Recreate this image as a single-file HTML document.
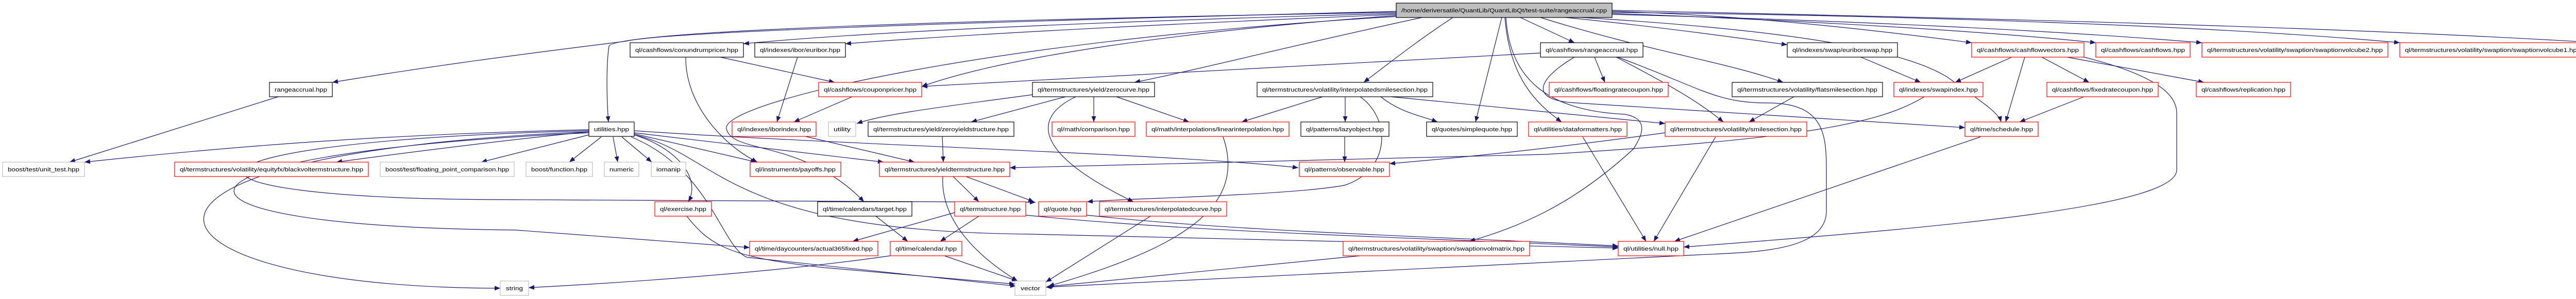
<!DOCTYPE html>
<html><head><meta charset="utf-8"><style>
html,body{margin:0;padding:0;background:#fff;overflow:hidden;}
svg{display:block;overflow:hidden;}
text{font-family:"Liberation Sans",sans-serif;font-size:11px;fill:#000;}
.e{fill:none;stroke:#191970;stroke-width:1.2;marker-end:url(#a);}
.b{fill:#fff;stroke:#000;stroke-width:1.2;}
.r{fill:#fff;stroke:#ff0000;stroke-width:1.2;}
.g{fill:#fff;stroke:#bfbfbf;stroke-width:1.2;}
</style></head><body>
<svg width="5261" height="581" viewBox="0 0 5261 581" xmlns="http://www.w3.org/2000/svg">
<defs><marker id="a" markerUnits="userSpaceOnUse" markerWidth="12" markerHeight="9" refX="11" refY="4.5" orient="auto"><path d="M0,0 L11,4.5 L0,9 z" fill="#191970"/></marker></defs>

<g>
<path class="e" d="M2712,22 C2000,40 1300,60 1215,80 C1100,95 900,118 645,160"/>
<path class="e" d="M2712,24 C1500,45 1190,70 1182,90 C1176,130 1178,200 1181,237"/>
<path class="e" d="M2712,26 C2200,40 1700,60 1443,85"/>
<path class="e" d="M2712,28 C2300,45 1900,65 1641,85"/>
<path class="e" d="M2712,30 C2300,60 1950,110 1789,168"/>
<path class="e" d="M2760,34 C2500,90 2350,130 2202,160"/>
<path class="e" d="M2820,34 C2750,80 2700,120 2647,160"/>
<path class="e" d="M2915,34 L2864,237"/>
<path class="e" d="M2921,34 C2930,150 2980,200 3031,237"/>
<path class="e" d="M2923,34 C2930,150 3000,215 3153,222 C3200,230 3190,260 3170,290 C3050,400 2950,440 2852,469"/>
<path class="e" d="M2951,34 L3056,83"/>
<path class="e" d="M2990,34 C3200,100 3350,120 3461,160"/>
<path class="e" d="M3039,34 C3200,50 3350,70 3469,87"/>
<path class="e" d="M3129,22 C3400,30 3650,60 3827,83"/>
<path class="e" d="M3129,26 C3500,40 3850,60 4068,83"/>
<path class="e" d="M3129,28 C3600,40 4000,60 4274,83"/>
<path class="e" d="M3129,24 C3700,30 4300,50 4658,83"/>
<path class="e" d="M3129,20 C3800,35 4500,50 5042,83"/>
<path class="e" d="M3070,34 C3500,60 3700,100 3780,150 C3850,200 3880,220 3884,237"/>
<path class="e" d="M2712,32 C1900,80 1400,200 1410,250 C1420,300 1560,270 1677,392"/>
<path class="e" d="M540,188 L135,315"/>
<path class="e" d="M1143,252 C700,262 400,290 164,315"/>
<path class="e" d="M1143,256 C1000,270 800,295 653,315"/>
<path class="e" d="M1143,262 L934,315"/>
<path class="e" d="M1167,266 L1105,315"/>
<path class="e" d="M1190,266 L1199,315"/>
<path class="e" d="M1207,266 L1265,315"/>
<path class="e" d="M1231,260 L1468,315"/>
<path class="e" d="M1231,258 L1715,315"/>
<path class="e" d="M1231,254 C1600,280 2300,300 2520,326"/>
<path class="e" d="M1231,262 C1320,290 1360,350 1336,392"/>
<path class="e" d="M1143,254 C300,275 250,388 1000,388 L2010,393"/>
<path class="e" d="M1143,258 C250,300 250,440 1000,447 L1455,481"/>
<path class="e" d="M1143,256 C100,300 250,560 971,560"/>
<path class="e" d="M1225,266 C1380,330 1400,480 1450,500 L1972,556"/>
<path class="e" d="M1231,262 C1400,300 1400,450 2000,455 L3141,482"/>
<path class="e" d="M1398,111 L1620,160"/>
<path class="e" d="M1331,111 C1330,200 1400,280 1470,315"/>
<path class="e" d="M1548,111 L1508,237"/>
<path class="e" d="M1654,188 L1541,237"/>
<path class="e" d="M2990,103 L1789,168"/>
<path class="e" d="M1563,265 L1775,315"/>
<path class="e" d="M2004,184 C1850,205 1720,220 1663,240"/>
<path class="e" d="M2068,188 L1885,237"/>
<path class="e" d="M2123,188 L2123,237"/>
<path class="e" d="M2167,188 L2308,237"/>
<path class="e" d="M2088,188 C2000,230 2010,300 2200,392"/>
<path class="e" d="M1829,265 L1831,315"/>
<path class="e" d="M1850,343 L1900,392"/>
<path class="e" d="M1875,343 L2007,392"/>
<path class="e" d="M1830,343 C1825,430 1900,500 1975,546"/>
<path class="e" d="M3735,188 C3650,240 3500,270 3000,300 L1960,326"/>
<path class="e" d="M3056,111 C2990,150 2960,195 3060,200 L3814,248"/>
<path class="e" d="M3095,111 L3115,160"/>
<path class="e" d="M3137,111 C3250,170 3300,200 3345,237"/>
<path class="e" d="M3140,111 C3300,170 3330,200 3430,200 C3540,200 3545,260 3545,330 L3545,410 C3545,490 3400,490 3300,495 C3000,510 2400,540 2030,558"/>
<path class="e" d="M4045,111 C4200,150 4225,190 4225,220 L4225,330 C4225,400 3800,440 3268,480"/>
<path class="e" d="M3844,266 L3250,469"/>
<path class="e" d="M3330,266 L3210,469"/>
<path class="e" d="M3072,266 L3195,469"/>
<path class="e" d="M3232,258 C3000,290 2850,305 2697,318"/>
<path class="e" d="M3482,188 L3395,237"/>
<path class="e" d="M2567,188 L2410,237"/>
<path class="e" d="M2611,188 L2611,237"/>
<path class="e" d="M2700,188 L3232,240"/>
<path class="e" d="M2680,188 C2720,220 2760,225 2790,237"/>
<path class="e" d="M2640,188 C2700,230 2700,330 2610,360 C2500,380 2200,385 2110,392"/>
<path class="e" d="M2610,266 L2610,315"/>
<path class="e" d="M2374,266 C2420,400 2300,480 2035,556"/>
<path class="e" d="M2233,420 L2030,548"/>
<path class="e" d="M1900,420 L1825,469"/>
<path class="e" d="M1853,413 L1655,469"/>
<path class="e" d="M1991,418 C2300,450 2700,460 3141,480"/>
<path class="e" d="M2109,418 C2400,450 2800,460 3141,478"/>
<path class="e" d="M1700,420 L1762,469"/>
<path class="e" d="M1833,497 L1975,546"/>
<path class="e" d="M1728,497 C1500,530 1200,550 1026,559"/>
<path class="e" d="M2640,497 L2032,557"/>
<path class="e" d="M1333,420 C1380,480 1420,500 1600,520 L1970,552"/>
<path class="e" d="M3905,111 L3795,160"/>
<path class="e" d="M3930,111 L3893,237"/>
<path class="e" d="M3963,111 L4055,160"/>
<path class="e" d="M4012,111 L4278,160"/>
<path class="e" d="M4045,188 L3920,237"/>
<path class="e" d="M3612,111 L3728,160"/>
</g>

<g>
<rect x="2710" y="6" width="419" height="28" fill="#bfbfbf" stroke="#000" stroke-width="1.2"/>
<text x="2919.5" y="24" text-anchor="middle" textLength="399" lengthAdjust="spacingAndGlyphs">/home/deriversatile/QuantLib/QuantLibQt/test-suite/rangeaccrual.cpp</text>

<rect class="b" x="1223" y="83" width="220" height="28"/><text x="1333" y="101" text-anchor="middle" textLength="200" lengthAdjust="spacingAndGlyphs">ql/cashflows/conundrumpricer.hpp</text>
<rect class="b" x="1465" y="83" width="176" height="28"/><text x="1553" y="101" text-anchor="middle" textLength="156" lengthAdjust="spacingAndGlyphs">ql/indexes/ibor/euribor.hpp</text>
<rect class="b" x="2990" y="83" width="199" height="28"/><text x="3089.5" y="101" text-anchor="middle" textLength="179" lengthAdjust="spacingAndGlyphs">ql/cashflows/rangeaccrual.hpp</text>
<rect class="b" x="3469" y="83" width="214" height="28"/><text x="3576" y="101" text-anchor="middle" textLength="194" lengthAdjust="spacingAndGlyphs">ql/indexes/swap/euriborswap.hpp</text>
<rect class="r" x="3827" y="83" width="218" height="28"/><text x="3936" y="101" text-anchor="middle" textLength="198" lengthAdjust="spacingAndGlyphs">ql/cashflows/cashflowvectors.hpp</text>
<rect class="r" x="4068" y="83" width="183" height="28"/><text x="4159.5" y="101" text-anchor="middle" textLength="163" lengthAdjust="spacingAndGlyphs">ql/cashflows/cashflows.hpp</text>
<rect class="r" x="4274" y="83" width="361" height="28"/><text x="4454.5" y="101" text-anchor="middle" textLength="341" lengthAdjust="spacingAndGlyphs">ql/termstructures/volatility/swaption/swaptionvolcube2.hpp</text>
<rect class="r" x="4658" y="83" width="361" height="28"/><text x="4838.5" y="101" text-anchor="middle" textLength="341" lengthAdjust="spacingAndGlyphs">ql/termstructures/volatility/swaption/swaptionvolcube1.hpp</text>
<rect class="r" x="5042" y="83" width="212" height="28"/><text x="5148" y="101" text-anchor="middle" textLength="192" lengthAdjust="spacingAndGlyphs">ql/time/daycounters/thirty360.hpp</text>

<rect class="b" x="523" y="160" width="122" height="28"/><text x="584" y="178" text-anchor="middle" textLength="102" lengthAdjust="spacingAndGlyphs">rangeaccrual.hpp</text>
<rect class="r" x="1589" y="160" width="200" height="28"/><text x="1689" y="178" text-anchor="middle" textLength="180" lengthAdjust="spacingAndGlyphs">ql/cashflows/couponpricer.hpp</text>
<rect class="b" x="2004" y="160" width="237" height="28"/><text x="2122.5" y="178" text-anchor="middle" textLength="217" lengthAdjust="spacingAndGlyphs">ql/termstructures/yield/zerocurve.hpp</text>
<rect class="b" x="2440" y="160" width="341" height="28"/><text x="2610.5" y="178" text-anchor="middle" textLength="321" lengthAdjust="spacingAndGlyphs">ql/termstructures/volatility/interpolatedsmilesection.hpp</text>
<rect class="r" x="3007" y="160" width="231" height="28"/><text x="3122.5" y="178" text-anchor="middle" textLength="211" lengthAdjust="spacingAndGlyphs">ql/cashflows/floatingratecoupon.hpp</text>
<rect class="b" x="3362" y="160" width="292" height="28"/><text x="3508" y="178" text-anchor="middle" textLength="272" lengthAdjust="spacingAndGlyphs">ql/termstructures/volatility/flatsmilesection.hpp</text>
<rect class="r" x="3676" y="160" width="173" height="28"/><text x="3762.5" y="178" text-anchor="middle" textLength="153" lengthAdjust="spacingAndGlyphs">ql/indexes/swapindex.hpp</text>
<rect class="r" x="3973" y="160" width="216" height="28"/><text x="4081" y="178" text-anchor="middle" textLength="196" lengthAdjust="spacingAndGlyphs">ql/cashflows/fixedratecoupon.hpp</text>
<rect class="r" x="4263" y="160" width="183" height="28"/><text x="4354.5" y="178" text-anchor="middle" textLength="163" lengthAdjust="spacingAndGlyphs">ql/cashflows/replication.hpp</text>

<rect class="b" x="1143" y="237" width="88" height="28"/><text x="1187" y="255" text-anchor="middle" textLength="68" lengthAdjust="spacingAndGlyphs">utilities.hpp</text>
<rect class="r" x="1421" y="237" width="163" height="28"/><text x="1502.5" y="255" text-anchor="middle" textLength="143" lengthAdjust="spacingAndGlyphs">ql/indexes/iborindex.hpp</text>
<rect class="g" x="1608" y="237" width="53" height="28"/><text x="1634.5" y="255" text-anchor="middle" textLength="33" lengthAdjust="spacingAndGlyphs">utility</text>
<rect class="b" x="1685" y="237" width="283" height="28"/><text x="1826.5" y="255" text-anchor="middle" textLength="263" lengthAdjust="spacingAndGlyphs">ql/termstructures/yield/zeroyieldstructure.hpp</text>
<rect class="r" x="2042" y="237" width="161" height="28"/><text x="2122.5" y="255" text-anchor="middle" textLength="141" lengthAdjust="spacingAndGlyphs">ql/math/comparison.hpp</text>
<rect class="r" x="2225" y="237" width="277" height="28"/><text x="2363.5" y="255" text-anchor="middle" textLength="257" lengthAdjust="spacingAndGlyphs">ql/math/interpolations/linearinterpolation.hpp</text>
<rect class="b" x="2525" y="237" width="171" height="28"/><text x="2610.5" y="255" text-anchor="middle" textLength="151" lengthAdjust="spacingAndGlyphs">ql/patterns/lazyobject.hpp</text>
<rect class="b" x="2769" y="237" width="176" height="28"/><text x="2857" y="255" text-anchor="middle" textLength="156" lengthAdjust="spacingAndGlyphs">ql/quotes/simplequote.hpp</text>
<rect class="r" x="2967" y="237" width="191" height="28"/><text x="3062.5" y="255" text-anchor="middle" textLength="171" lengthAdjust="spacingAndGlyphs">ql/utilities/dataformatters.hpp</text>
<rect class="r" x="3232" y="237" width="275" height="28"/><text x="3369.5" y="255" text-anchor="middle" textLength="255" lengthAdjust="spacingAndGlyphs">ql/termstructures/volatility/smilesection.hpp</text>
<rect class="r" x="3814" y="237" width="142" height="28"/><text x="3885" y="255" text-anchor="middle" textLength="122" lengthAdjust="spacingAndGlyphs">ql/time/schedule.hpp</text>

<rect class="g" x="5" y="315" width="159" height="28"/><text x="84.5" y="333" text-anchor="middle" textLength="139" lengthAdjust="spacingAndGlyphs">boost/test/unit_test.hpp</text>
<rect class="r" x="339" y="315" width="376" height="28"/><text x="527" y="333" text-anchor="middle" textLength="356" lengthAdjust="spacingAndGlyphs">ql/termstructures/volatility/equityfx/blackvoltermstructure.hpp</text>
<rect class="g" x="738" y="315" width="260" height="28"/><text x="868" y="333" text-anchor="middle" textLength="240" lengthAdjust="spacingAndGlyphs">boost/test/floating_point_comparison.hpp</text>
<rect class="g" x="1021" y="315" width="129" height="28"/><text x="1085.5" y="333" text-anchor="middle" textLength="109" lengthAdjust="spacingAndGlyphs">boost/function.hpp</text>
<rect class="g" x="1173" y="315" width="67" height="28"/><text x="1206.5" y="333" text-anchor="middle" textLength="47" lengthAdjust="spacingAndGlyphs">numeric</text>
<rect class="g" x="1264" y="315" width="67" height="28"/><text x="1297.5" y="333" text-anchor="middle" textLength="47" lengthAdjust="spacingAndGlyphs">iomanip</text>
<rect class="r" x="1456" y="315" width="176" height="28"/><text x="1544" y="333" text-anchor="middle" textLength="156" lengthAdjust="spacingAndGlyphs">ql/instruments/payoffs.hpp</text>
<rect class="r" x="1707" y="315" width="253" height="28"/><text x="1833.5" y="333" text-anchor="middle" textLength="233" lengthAdjust="spacingAndGlyphs">ql/termstructures/yieldtermstructure.hpp</text>
<rect class="r" x="2522" y="315" width="175" height="28"/><text x="2609.5" y="333" text-anchor="middle" textLength="155" lengthAdjust="spacingAndGlyphs">ql/patterns/observable.hpp</text>

<rect class="r" x="1271" y="392" width="110" height="28"/><text x="1326" y="410" text-anchor="middle" textLength="90" lengthAdjust="spacingAndGlyphs">ql/exercise.hpp</text>
<rect class="b" x="1587" y="392" width="183" height="28"/><text x="1678.5" y="410" text-anchor="middle" textLength="163" lengthAdjust="spacingAndGlyphs">ql/time/calendars/target.hpp</text>
<rect class="r" x="1853" y="392" width="138" height="28"/><text x="1922" y="410" text-anchor="middle" textLength="118" lengthAdjust="spacingAndGlyphs">ql/termstructure.hpp</text>
<rect class="r" x="2016" y="392" width="93" height="28"/><text x="2062.5" y="410" text-anchor="middle" textLength="73" lengthAdjust="spacingAndGlyphs">ql/quote.hpp</text>
<rect class="r" x="2134" y="392" width="247" height="28"/><text x="2257.5" y="410" text-anchor="middle" textLength="227" lengthAdjust="spacingAndGlyphs">ql/termstructures/interpolatedcurve.hpp</text>

<rect class="r" x="1455" y="469" width="249" height="28"/><text x="1579.5" y="487" text-anchor="middle" textLength="229" lengthAdjust="spacingAndGlyphs">ql/time/daycounters/actual365fixed.hpp</text>
<rect class="r" x="1728" y="469" width="139" height="28"/><text x="1797.5" y="487" text-anchor="middle" textLength="119" lengthAdjust="spacingAndGlyphs">ql/time/calendar.hpp</text>
<rect class="r" x="2607" y="469" width="362" height="28"/><text x="2788" y="487" text-anchor="middle" textLength="342" lengthAdjust="spacingAndGlyphs">ql/termstructures/volatility/swaption/swaptionvolmatrix.hpp</text>
<rect class="r" x="3141" y="469" width="127" height="28"/><text x="3204.5" y="487" text-anchor="middle" textLength="107" lengthAdjust="spacingAndGlyphs">ql/utilities/null.hpp</text>

<rect class="g" x="971" y="546" width="55" height="28"/><text x="998.5" y="564" text-anchor="middle" textLength="33" lengthAdjust="spacingAndGlyphs">string</text>
<rect class="g" x="1970" y="546" width="60" height="28"/><text x="2000" y="564" text-anchor="middle" textLength="38" lengthAdjust="spacingAndGlyphs">vector</text>
</g>
</svg>
</body></html>
